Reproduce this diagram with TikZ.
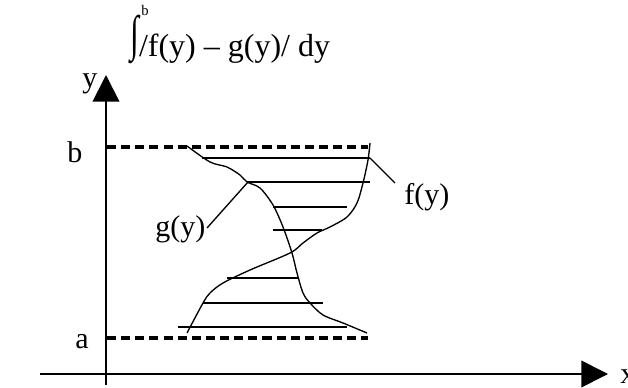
\documentclass[tikz,border=0pt]{standalone}
\usepackage{fontspec}
\setmainfont{Liberation Serif}
\usetikzlibrary{arrows.meta}

\begin{document}
\begin{tikzpicture}[x=0.75pt,y=-0.75pt]
    \tikzset{
      axis/.style={draw=black,line width=1.3pt,-{Triangle[length=20pt,width=20pt]}},
      bound/.style={draw=black,line width=2.4pt,dash pattern=on 6.8pt off 3.8pt},
      curve/.style={draw=black,line width=1pt},
      strip/.style={draw=black,line width=1pt},
      leader/.style={draw=black,line width=1pt},
      lbl/.style={inner sep=0pt,anchor=base west,font=\fontsize{22.5}{27}\selectfont},
      tiny/.style={inner sep=0pt,anchor=base west,font=\fontsize{11}{12}\selectfont}
    }
    \useasboundingbox (0,0) rectangle (628,388);
    % axes
    \coordinate (ybot) at (106,385);
    \coordinate (ytop) at (106,75);
    \coordinate (xleft) at (40,374);
    \coordinate (xright) at (608,374);
    \draw[axis] (ybot) -- (ytop);
    \draw[axis] (xleft) -- (xright);
    \node[lbl] (ylab) at (82,88) {y};
    \node[lbl] (xlab) at (620,383) {x};
    % limits
    \coordinate (btop) at (107,147);
    \coordinate (bend) at (368,147);
    \coordinate (atop) at (107,338);
    \coordinate (aend) at (368,338);
    \draw[bound] (btop) -- (bend);
    \draw[bound] (atop) -- (aend);
    \node[lbl] (blab) at (67,163) {b};
    \node[lbl] (alab) at (75,348) {a};
    % the two curves
    \draw[curve] plot[smooth,tension=0.5] coordinates {(187,146) (210,162) (227,167) (240,175) (247,182) (260,188) (273,205) (283,227) (292,253) (297,273) (303,293) (310,303) (323,315) (343,323) (367,333)};
    \draw[curve] plot[smooth,tension=0.5] coordinates {(370,143) (368,160) (363,183) (357,203) (347,217) (330,227) (317,233) (303,243) (290,253) (250,270) (223,283) (210,293) (203,303) (187,333)};
    % strips
    \draw[strip] (202,158) -- (370,158);
    \draw[strip] (247,182) -- (370,182);
    \draw[strip] (273,207) -- (347,207);
    \draw[strip] (273,230) -- (322,230);
    \draw[strip] (227,278) -- (298,278);
    \draw[strip] (203,303) -- (323,303);
    \draw[strip] (178,327) -- (347,327);
    % labels of the curves
    \node[lbl] (flab) at (404,205) {f(y)};
    \node[lbl] (glab) at (155,237) {g(y)};
    \coordinate (fpt) at (370,158);
    \coordinate (fend) at (395,183);
    \coordinate (gpt) at (248,182);
    \coordinate (gend) at (207,228);
    \draw[leader] (fpt) -- (fend);
    \draw[leader] (gpt) -- (gend);
    % formula
    \node[lbl,font=\fontsize{24}{28}\selectfont] (area) at (130,57) {\raisebox{4.5pt}{\scalebox{1}[1.55]{∫}}/f(y) – g(y)/ dy};
    \node[tiny] (upper) at (141,16) {b};
\end{tikzpicture}
\end{document}
